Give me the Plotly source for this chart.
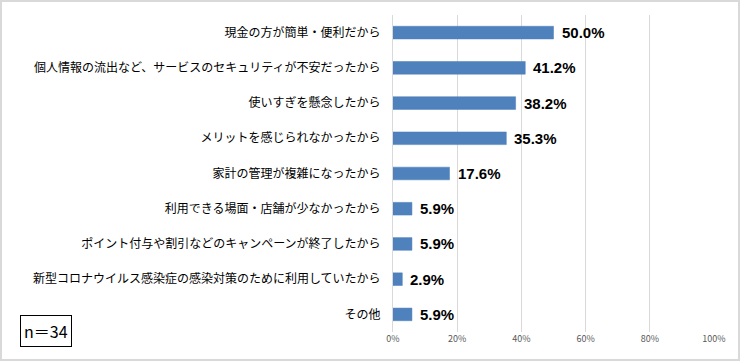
import plotly.graph_objects as go

categories = [
    "現金の方が簡単・便利だから",
    "個人情報の流出など、サービスのセキュリティが不安だったから",
    "使いすぎを懸念したから",
    "メリットを感じられなかったから",
    "家計の管理が複雑になったから",
    "利用できる場面・店舗が少なかったから",
    "ポイント付与や割引などのキャンペーンが終了したから",
    "新型コロナウイルス感染症の感染対策のために利用していたから",
    "その他",
]
values = [50.0, 41.2, 38.2, 35.3, 17.6, 5.9, 5.9, 2.9, 5.9]
tick_vals = [0, 20, 40, 60, 80, 100]
tick_text = ["0%", "20%", "40%", "60%", "80%", "100%"]
n_label = "n＝34"

W, H = 740, 361
ML, MR, MT, MB = 393, 26, 15, 29
pw = W - ML - MR
ph = H - MT - MB

jp = "Noto Sans CJK JP"

fig = go.Figure()
fig.add_trace(go.Bar(
    x=values, y=categories, orientation="h",
    marker=dict(color="#4F81BD", line=dict(color="#4A7EBB", width=0.5)),
    width=0.36, hoverinfo="skip",
))

for c, v in zip(categories, values):
    fig.add_annotation(
        x=v, y=c, xref="x", yref="y", text=f"<b>{v:.1f}%</b>",
        showarrow=False, xanchor="left", yanchor="middle", xshift=6,
        font=dict(family="Liberation Sans, Arial", size=15, color="#000000"),
    )

fig.add_annotation(
    x=(20 - ML) / pw, y=(H - 331 - MB) / ph, xref="paper", yref="paper",
    text=n_label, showarrow=False, xanchor="left", yanchor="middle",
    font=dict(family=jp, size=16, color="#000000"),
    bordercolor="#000000", borderwidth=1, borderpad=3, bgcolor="#FFFFFF",
)

# outer chart border
fig.add_shape(
    type="rect", xref="paper", yref="paper",
    x0=(1 - ML) / pw, x1=(W - 1 - ML) / pw,
    y0=(-MB + 1) / ph, y1=(ph + MT - 1) / ph,
    line=dict(color="#D9D9D9", width=2), layer="below",
)

fig.update_layout(
    width=W, height=H,
    margin=dict(l=ML, r=MR, t=MT, b=MB),
    paper_bgcolor="#FFFFFF", plot_bgcolor="#FFFFFF",
    showlegend=False,
    font=dict(family=jp, color="#000000"),
    xaxis=dict(
        range=[0, 100], tickvals=tick_vals, ticktext=tick_text,
        showgrid=True, gridcolor="#D9D9D9", gridwidth=1,
        zeroline=False, showline=False, ticks="",
        tickfont=dict(family=jp, size=9, color="#595959"),
        fixedrange=True,
    ),
    yaxis=dict(
        autorange="reversed", showgrid=False, zeroline=False,
        showline=True, linecolor="#D9D9D9", linewidth=1,
        ticks="", ticklabelstandoff=9,
        tickfont=dict(family=jp, size=12, color="#000000"),
        fixedrange=True,
    ),
)

fig.write_html(
    "out.html",
    config={"displayModeBar": False},
    post_script="document.body.style.margin='0';document.body.style.overflow='hidden';",
)
